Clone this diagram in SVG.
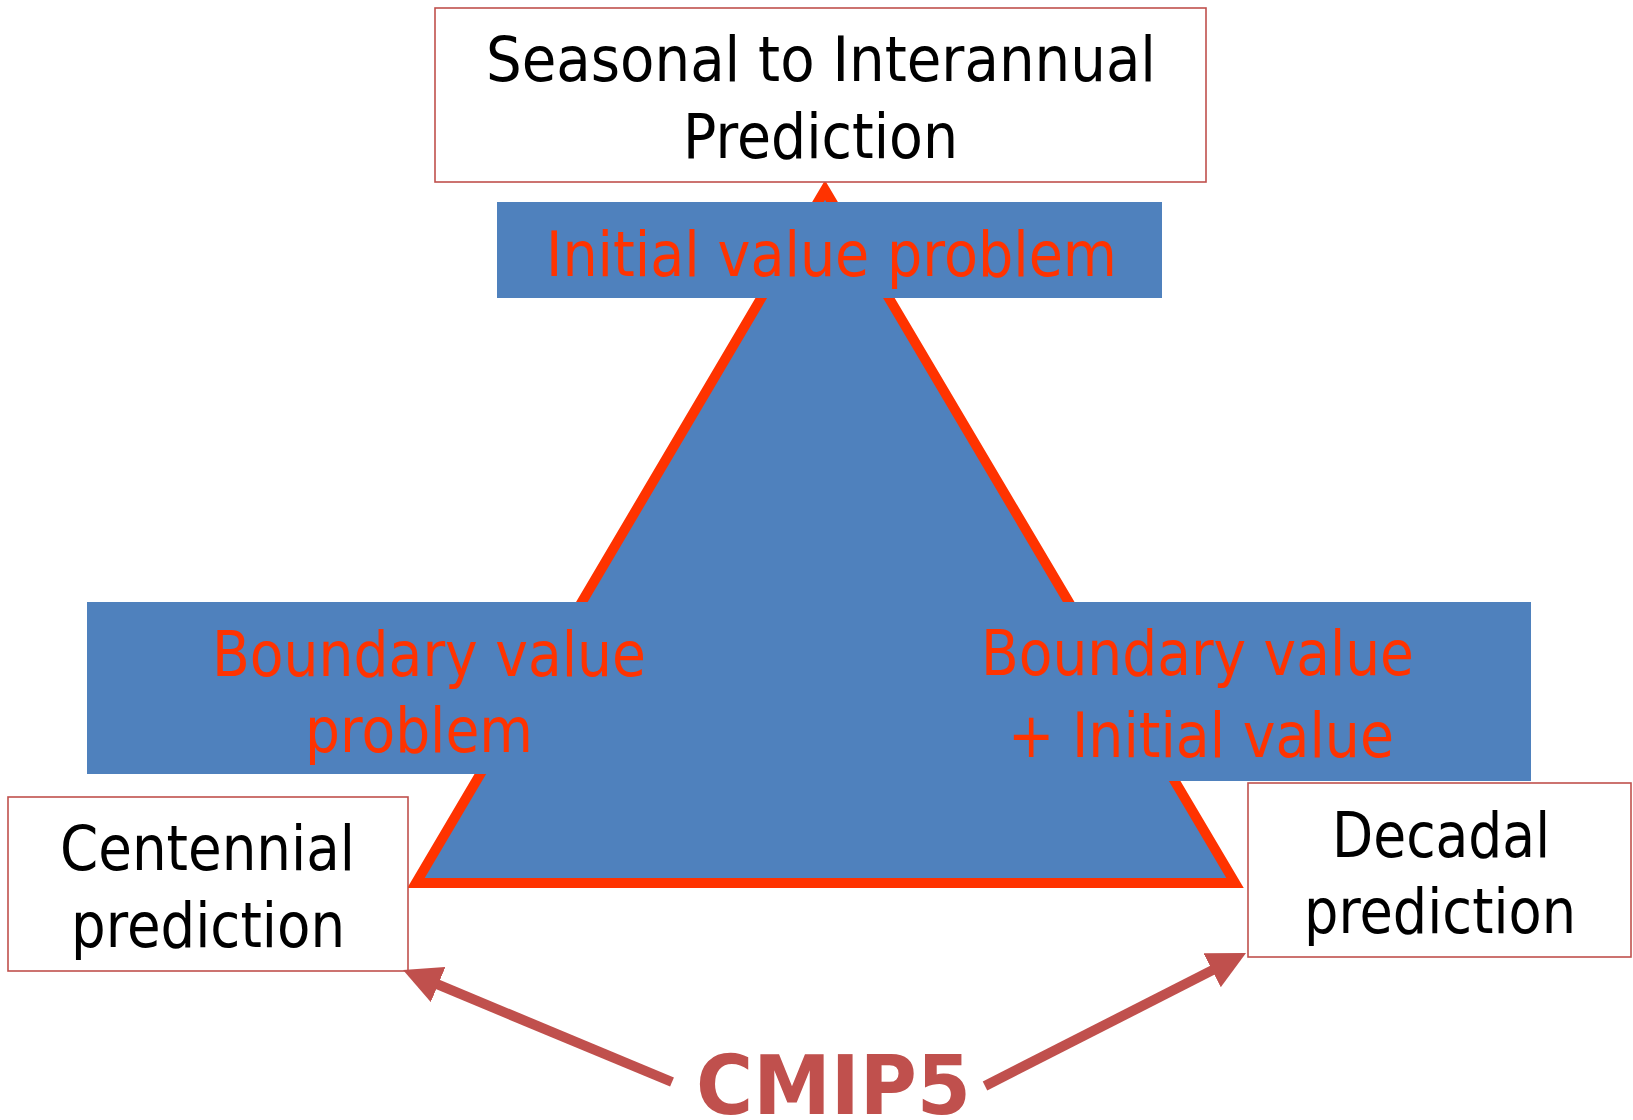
<svg xmlns="http://www.w3.org/2000/svg" width="1633" height="1120" viewBox="0 0 1633 1120">
<style>
.bg{fill:#FFFFFF}
.box{fill:#FFFFFF;stroke:#C0504D;stroke-width:1.6}
.blue{fill:#4F81BD}
.tri{fill:#4F81BD;stroke:#FF3300;stroke-width:10;stroke-linejoin:miter}
.t{font-family:"DejaVu Sans","Liberation Sans",sans-serif;font-size:62px}
.blk{fill:#000000}
.red{fill:#FF3300}
.cmip{font-family:"DejaVu Sans","Liberation Sans",sans-serif;font-size:82px;font-weight:bold;fill:#C0504D}
.conn{stroke:#C0504D;stroke-width:10;fill:none;stroke-linecap:butt}
</style>
<defs>
<marker id="head" markerUnits="userSpaceOnUse" markerWidth="38" markerHeight="38" refX="18" refY="19" orient="auto">
<path d="M0,0 L38,19 L0,38 z" fill="#C0504D"/>
</marker>
</defs>
<rect class="bg" x="0" y="0" width="1633" height="1120"/>
<g id="triangle">
<polygon class="tri" points="825,190 1235,883 416,883"/>
</g>
<g id="initial-value">
<rect class="blue" x="497" y="202" width="665" height="96"/>
<text class="t red" x="546" y="276" textLength="571" lengthAdjust="spacingAndGlyphs">Initial value problem</text>
</g>
<g id="boundary-value">
<rect class="blue" x="87" y="602" width="745" height="172"/>
<text class="t red" x="212" y="676" textLength="434" lengthAdjust="spacingAndGlyphs">Boundary value</text>
<text class="t red" x="305" y="752" textLength="228" lengthAdjust="spacingAndGlyphs">problem</text>
</g>
<g id="boundary-initial-value">
<rect class="blue" x="820" y="602" width="711" height="179"/>
<text class="t red" x="981" y="675" textLength="433" lengthAdjust="spacingAndGlyphs">Boundary value</text>
<text class="t red" x="1008" y="757" textLength="386" lengthAdjust="spacingAndGlyphs">+  Initial value</text>
</g>
<g id="seasonal">
<rect class="box" x="435" y="8" width="771" height="174"/>
<text class="t blk" x="486" y="81" textLength="670" lengthAdjust="spacingAndGlyphs">Seasonal to Interannual</text>
<text class="t blk" x="683" y="158" textLength="275" lengthAdjust="spacingAndGlyphs">Prediction</text>
</g>
<g id="centennial">
<rect class="box" x="8" y="797" width="400" height="174"/>
<text class="t blk" x="60" y="870" textLength="295" lengthAdjust="spacingAndGlyphs">Centennial</text>
<text class="t blk" x="71" y="947" textLength="274" lengthAdjust="spacingAndGlyphs">prediction</text>
</g>
<g id="decadal">
<rect class="box" x="1248" y="783" width="383" height="174"/>
<text class="t blk" x="1332" y="857" textLength="218" lengthAdjust="spacingAndGlyphs">Decadal</text>
<text class="t blk" x="1304" y="933" textLength="272" lengthAdjust="spacingAndGlyphs">prediction</text>
</g>
<g id="cmip5">
<text class="cmip" x="696" y="1114" textLength="275" lengthAdjust="spacingAndGlyphs">CMIP5</text>
</g>
<g id="connectors">
<line class="conn" x1="672" y1="1082" x2="421.5" y2="977.7" marker-end="url(#head)"/>
<line class="conn" x1="985" y1="1086" x2="1228.2" y2="962.1" marker-end="url(#head)"/>
</g>
</svg>
